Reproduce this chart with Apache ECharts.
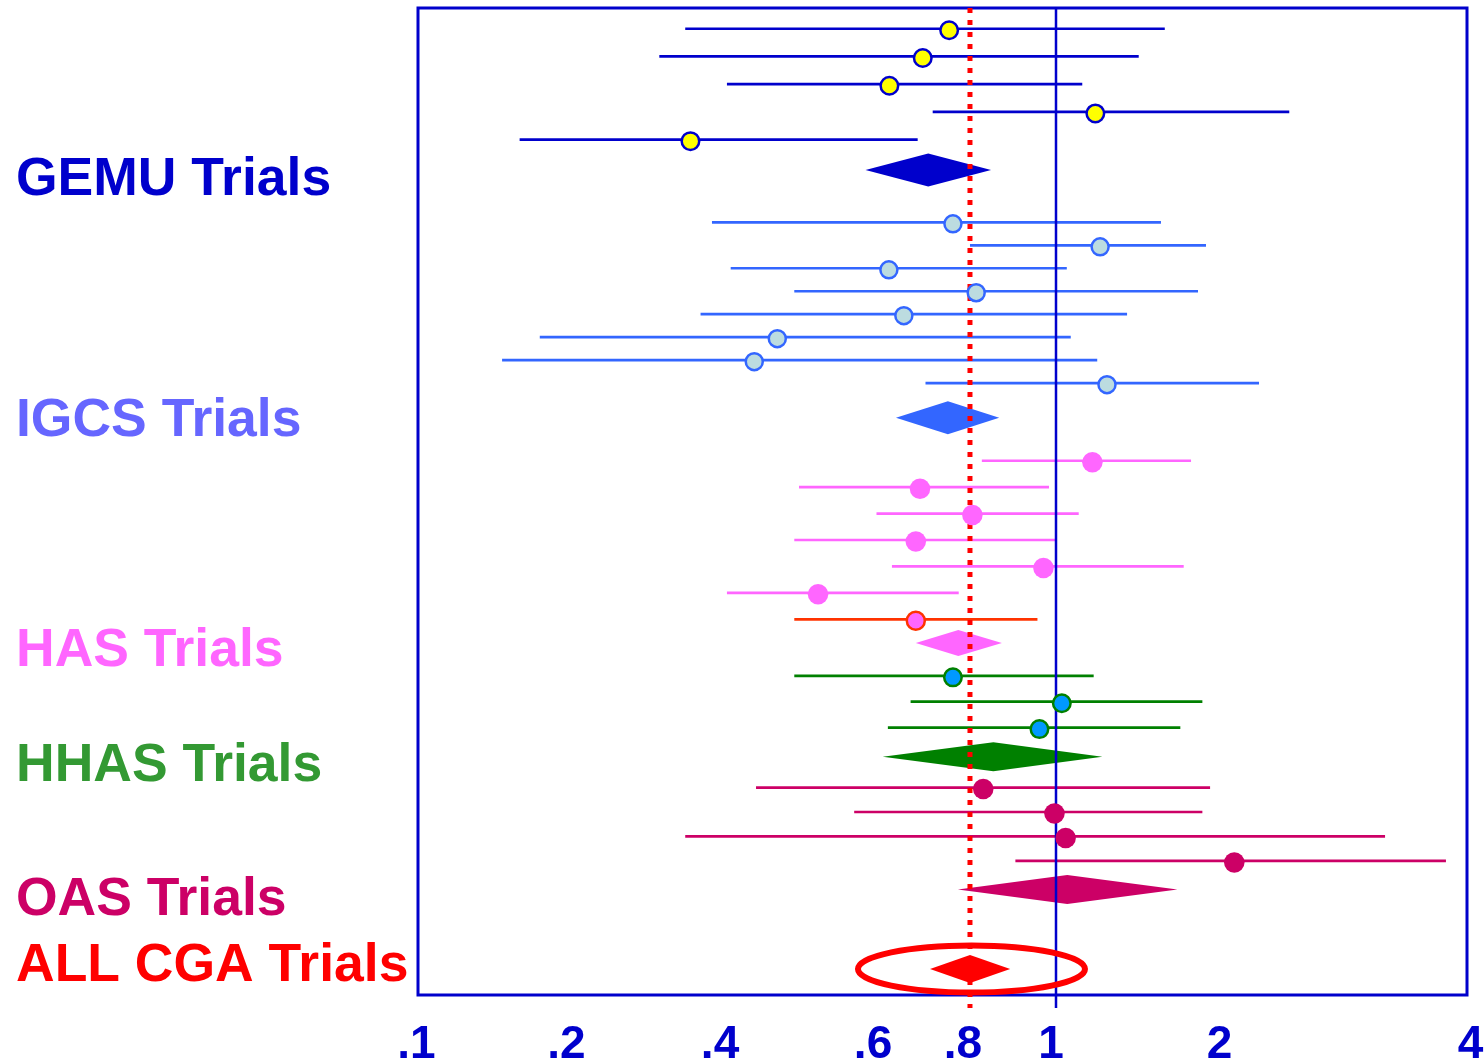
<!DOCTYPE html>
<html>
<head>
<meta charset="utf-8">
<title>CGA trials – odds ratios by programme type</title>
<script src="https://cdn.jsdelivr.net/npm/echarts@6.0.0/dist/echarts.min.js"></script>
<style>
  html, body { margin: 0; padding: 0; background: #ffffff; }
  #chart { width: 1484px; height: 1059px; }
</style>
</head>
<body>
<div id="chart"></div>
<script>
// Odds ratios with 95% confidence intervals, trial by trial, grouped by programme type

const groupNames = ['GEMU Trials', 'IGCS Trials', 'HAS Trials', 'HHAS Trials', 'OAS Trials'];
const overallName = 'ALL CGA Trials';

const gemuOR   = [0.749, 0.689, 0.620, 1.174, 0.342];
const gemuLow  = [0.334, 0.297, 0.402, 0.711, 0.158];
const gemuHigh = [1.558, 1.401, 1.113, 2.399, 0.678];

const igcsOR   = [0.758, 1.197, 0.619, 0.813, 0.649, 0.459, 0.432, 1.231];
const igcsLow  = [0.377, 0.800, 0.406, 0.480, 0.358, 0.173, 0.146, 0.695];
const igcsHigh = [1.534, 1.843, 1.045, 1.784, 1.336, 1.062, 1.183, 2.199];

const hasOR    = [1.160, 0.683, 0.805, 0.674, 0.968, 0.511, 0.674];
const hasLow   = [0.825, 0.486, 0.596, 0.480, 0.625, 0.402, 0.480];
const hasHigh  = [1.734, 0.982, 1.097, 1.000, 1.683, 0.772, 0.953];

const hhasOR   = [0.758, 1.024, 0.958];
const hhasLow  = [0.480, 0.663, 0.617];
const hhasHigh = [1.166, 1.816, 1.660];

const oasOR    = [0.828, 0.996, 1.040, 2.048];
const oasLow   = [0.434, 0.562, 0.334, 0.900];
const oasHigh  = [1.874, 1.816, 3.160, 3.765];

// pooled estimate for each programme type
const pooledOR   = [0.701, 0.746, 0.771, 0.850, 1.047];
const pooledLow  = [0.579, 0.633, 0.674, 0.607, 0.770];
const pooledHigh = [0.845, 0.863, 0.869, 1.208, 1.640];

// pooled over every trial
const overallOR   = [0.80];
const overallLow  = [0.705];
const overallHigh = [0.888];

// odds-ratio axis
const tickValues = [0.1, 0.2, 0.4, 0.6, 0.8, 1, 2, 4];
const tickLabels = ['.1', '.2', '.4', '.6', '.8', '1', '2', '4'];

// ---------------------------------------------------------------------------
// Scale: each tick value has a stop along the axis (percent of its length);
// between stops the odds ratio is interpolated on a log scale.
const tickStops = [0, 14.68, 29.27, 43.95, 52.62, 60.82, 77.03, 100];

function orToAxis(v) {
  const n = tickValues.length;
  let i = 0;
  while (i < n - 2 && v > tickValues[i + 1]) i++;
  const a = tickValues[i], b = tickValues[i + 1];
  const t = Math.log(v / a) / Math.log(b / a);
  return tickStops[i] + t * (tickStops[i + 1] - tickStops[i]);
}

function nearestIndex(list, v) {
  let best = 0;
  list.forEach((x, i) => { if (Math.abs(x - v) < Math.abs(list[best] - v)) best = i; });
  return best;
}

// Vertical layout in row units. Each group has its own row pitch, the pooled
// diamond sits a little below its last trial, and groups are spaced apart.
const ROW_SPAN = 40;
const FIRST_ROW = 0.84;
const ROW_STEP = [1.124, 0.931, 1.071, 1.048, 0.991];
const DIAMOND_GAP = [1.23, 1.40, 0.96, 1.18, 1.16];
const GROUP_GAP = [2.12, 1.745, 1.332, 1.25];
const OVERALL_GAP = 3.223;

const groups = [
  { or: gemuOR, low: gemuLow, high: gemuHigh },
  { or: igcsOR, low: igcsLow, high: igcsHigh },
  { or: hasOR,  low: hasLow,  high: hasHigh },
  { or: hhasOR, low: hhasLow, high: hhasHigh },
  { or: oasOR,  low: oasLow,  high: oasHigh }
];

let cursor = FIRST_ROW;
groups.forEach((g, gi) => {
  if (gi > 0) cursor += GROUP_GAP[gi - 1];
  const start = cursor;
  g.rows = g.or.map((_, i) => start + i * ROW_STEP[gi]);
  g.diamondRow = g.rows[g.rows.length - 1] + DIAMOND_GAP[gi];
  cursor = g.diamondRow;
});
const overallRow = cursor + OVERALL_GAP;

// Look of each group
const FONT = "'Liberation Sans', Arial, Helvetica, sans-serif";
const CI_WIDTH = 2.7;
const STYLE = [
  { label: '#0000CC', line: '#0000CC', fill: '#FFFF00', border: '#0000CC', borderWidth: 2.5, size: 17.5, diamond: '#0000CC', half: 16.5, nudge: 10.4 },
  { label: '#6666FF', line: '#3366FF', fill: '#BCDCE0', border: '#3366FF', borderWidth: 2.5, size: 17,   diamond: '#3366FF', half: 16.5, nudge: 4 },
  { label: '#FF66FF', line: '#FF66FF', fill: '#FF66FF', border: '#FF66FF', borderWidth: 0,   size: 20.5, diamond: '#FF66FF', half: 13,   nudge: 8.6,
    accent: { index: 6, line: '#FF3300', border: '#FF3300', borderWidth: 2.5, size: 18 } },
  { label: '#339933', line: '#008000', fill: '#0099FF', border: '#008000', borderWidth: 2.5, size: 17.5, diamond: '#008000', half: 14.5, nudge: 9.6 },
  { label: '#CC0066', line: '#CC0066', fill: '#CC0066', border: '#CC0066', borderWidth: 0,   size: 20.5, diamond: '#CC0066', half: 14.5, nudge: 11 }
];
const OVERALL_STYLE = { label: '#FF0000', diamond: '#FF0000', half: 14, nudge: -2.8, ring: '#FF0000', ringWidth: 6, ringRx: 113.5, ringRy: 23.5 };
const AXIS_BLUE = '#0000CC';

// horizontal nudge of each tick label (right padding > 0 moves it left)
const tickNudge = [3, 11, 10, 12, 14, 10, 13, -7];
const tickRich = {};
tickNudge.forEach((p, i) => {
  tickRich['t' + i] = {
    fontFamily: FONT, fontSize: 46, fontWeight: 'bold', color: AXIS_BLUE,
    padding: p >= 0 ? [0, p, 0, 0] : [0, 0, 0, -p]
  };
});

// group labels on the left, level with their pooled diamonds
const labelRows = groups.map(g => g.diamondRow).concat([overallRow]);
const labelTexts = groupNames.concat([overallName]);
const labelStyles = STYLE.concat([OVERALL_STYLE]);
const labelRich = {};
labelStyles.forEach((s, i) => {
  labelRich['g' + i] = {
    fontFamily: FONT, fontSize: 53.5, fontWeight: 'bold', color: s.label,
    padding: s.nudge >= 0 ? [2 * s.nudge, 0, 0, 0] : [0, 0, -2 * s.nudge, 0]
  };
});

// ---------------------------------------------------------------------------
const series = [];

groups.forEach((g, gi) => {
  const st = STYLE[gi];

  // confidence intervals
  series.push({
    type: 'custom', coordinateSystem: 'cartesian2d', silent: true, clip: false, z: 2,
    data: g.rows.map((r, i) => [orToAxis(g.low[i]), orToAxis(g.high[i]), r]),
    renderItem(params, api) {
      const a = api.coord([api.value(0), api.value(2)]);
      const b = api.coord([api.value(1), api.value(2)]);
      const accent = st.accent && st.accent.index === params.dataIndex;
      return {
        type: 'line',
        shape: { x1: a[0], y1: a[1], x2: b[0], y2: b[1] },
        style: { stroke: accent ? st.accent.line : st.line, lineWidth: CI_WIDTH }
      };
    }
  });

  // pooled diamond
  series.push({
    type: 'custom', coordinateSystem: 'cartesian2d', silent: true, clip: false, z: 3,
    data: [[orToAxis(pooledLow[gi]), orToAxis(pooledOR[gi]), orToAxis(pooledHigh[gi]), g.diamondRow]],
    renderItem(params, api) {
      const l = api.coord([api.value(0), api.value(3)]);
      const m = api.coord([api.value(1), api.value(3)]);
      const h = api.coord([api.value(2), api.value(3)]);
      return {
        type: 'polygon',
        shape: { points: [[l[0], l[1]], [m[0], m[1] - st.half], [h[0], h[1]], [m[0], m[1] + st.half]] },
        style: { fill: st.diamond }
      };
    }
  });

  // point estimates
  series.push({
    type: 'scatter', silent: true, z: 5,
    symbol: 'circle', symbolSize: st.size, symbolOffset: [0, 1.5],
    itemStyle: { color: st.fill, borderColor: st.border, borderWidth: st.borderWidth, opacity: 1 },
    data: g.rows.map((r, i) => {
      const item = { value: [orToAxis(g.or[i]), r] };
      if (st.accent && st.accent.index === i) {
        item.symbolSize = st.accent.size;
        item.itemStyle = { color: st.fill, borderColor: st.accent.border, borderWidth: st.accent.borderWidth };
      }
      return item;
    })
  });
});

// overall pooled diamond with its ring
series.push({
  type: 'custom', coordinateSystem: 'cartesian2d', silent: true, clip: false, z: 6,
  data: [[orToAxis(overallLow[0]), orToAxis(overallOR[0]), orToAxis(overallHigh[0]), overallRow]],
  renderItem(params, api) {
    const l = api.coord([api.value(0), api.value(3)]);
    const m = api.coord([api.value(1), api.value(3)]);
    const h = api.coord([api.value(2), api.value(3)]);
    const s = OVERALL_STYLE;
    return {
      type: 'group',
      children: [
        {
          type: 'polygon',
          shape: { points: [[l[0], l[1]], [m[0], m[1] - s.half], [h[0], h[1]], [m[0], m[1] + s.half]] },
          style: { fill: s.diamond }
        },
        {
          type: 'ellipse',
          shape: { cx: m[0] + 1.5, cy: m[1], rx: s.ringRx, ry: s.ringRy },
          style: { fill: null, stroke: s.ring, lineWidth: s.ringWidth }
        }
      ]
    };
  }
});

// no-effect line at 1 and the dotted line through the overall estimate
series.push({
  type: 'custom', coordinateSystem: 'cartesian2d', silent: true, clip: false, z: 4,
  data: [[orToAxis(1), 0], [orToAxis(overallOR[0]), 0]],
  renderItem(params, api) {
    const top = api.coord([api.value(0), 0]);
    const bottom = api.coord([api.value(0), ROW_SPAN]);
    const dotted = params.dataIndex === 1;
    return {
      type: 'line',
      shape: { x1: top[0], y1: top[1], x2: bottom[0], y2: bottom[1] + 13 },
      style: dotted
        ? { stroke: '#FF0000', lineWidth: 5, lineDash: [5, 7] }
        : { stroke: AXIS_BLUE, lineWidth: 2.5 }
    };
  }
});

const option = {
  backgroundColor: '#ffffff',
  animation: false,
  grid: {
    left: 418, right: 17, top: 8, bottom: 64,
    show: true, borderColor: AXIS_BLUE, borderWidth: 3,
    containLabel: false, outerBoundsMode: 'none'
  },
  xAxis: {
    type: 'value', min: 0, max: 100,
    axisLine: { show: false }, axisTick: { show: false }, splitLine: { show: false },
    axisLabel: {
      customValues: tickStops,
      margin: 27,
      fontFamily: FONT, fontSize: 46, fontWeight: 'bold', color: AXIS_BLUE,
      formatter: v => {
        const i = nearestIndex(tickStops, v);
        return '{t' + i + '|' + tickLabels[i] + '}';
      },
      rich: tickRich
    }
  },
  yAxis: {
    type: 'value', min: 0, max: ROW_SPAN, inverse: true,
    axisLine: { show: false }, axisTick: { show: false }, splitLine: { show: false },
    axisLabel: {
      customValues: labelRows,
      align: 'left',
      margin: 402,
      fontFamily: FONT, fontSize: 53.5, fontWeight: 'bold',
      formatter: v => {
        const i = nearestIndex(labelRows, v);
        return '{g' + i + '|' + labelTexts[i] + '}';
      },
      rich: labelRich
    }
  },
  series
};

const chart = echarts.init(document.getElementById('chart'));
chart.setOption(option);
</script>
</body>
</html>
